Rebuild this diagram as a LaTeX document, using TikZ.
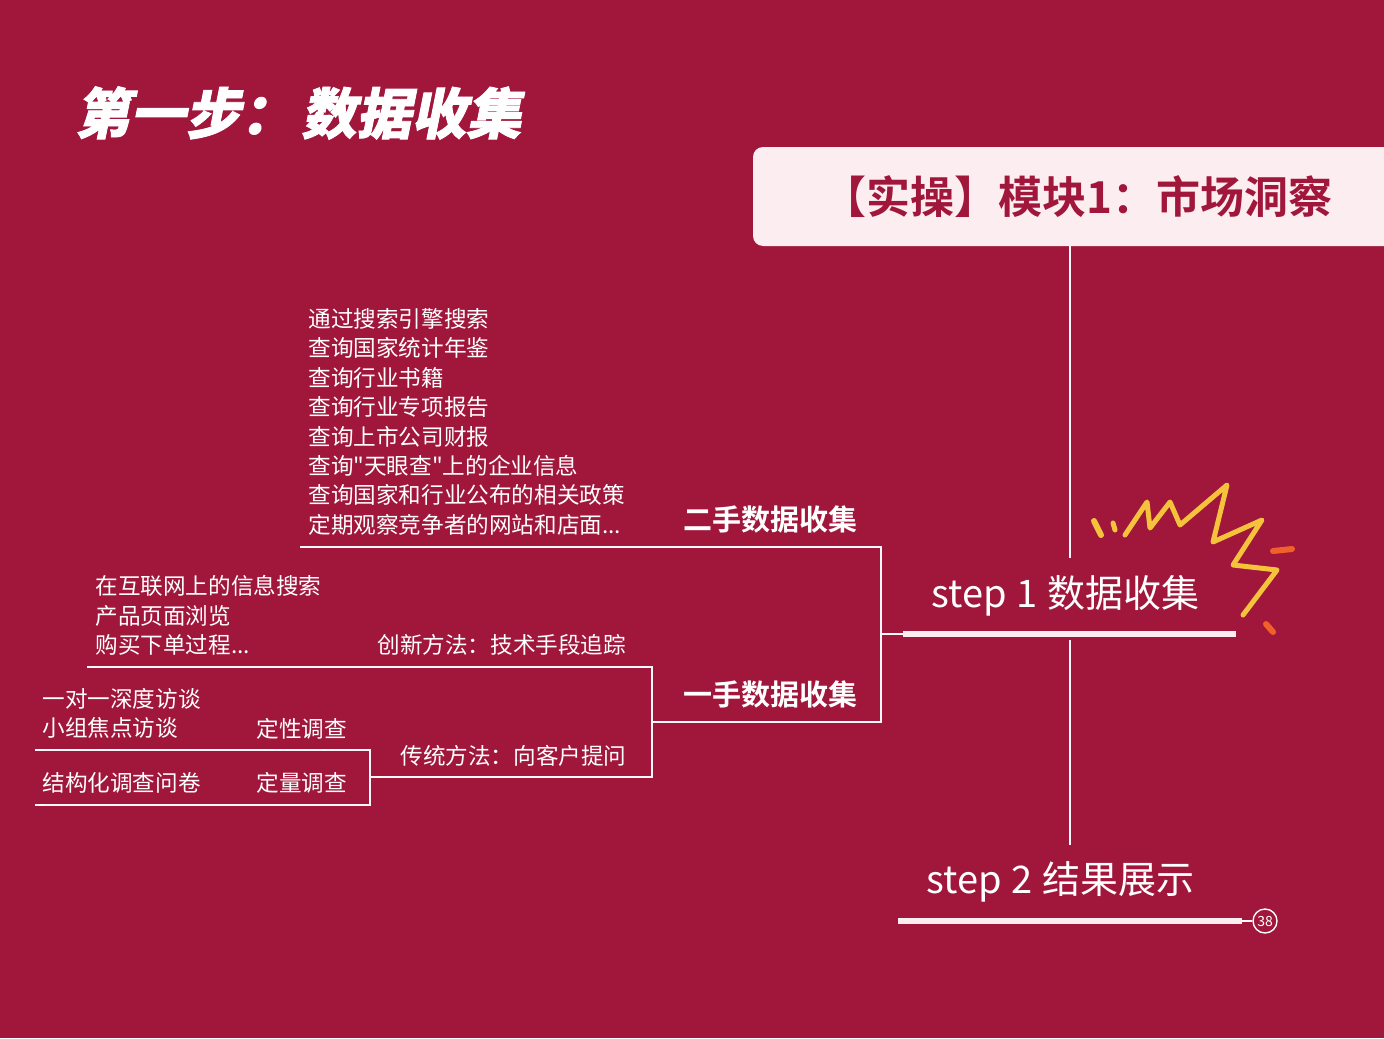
\documentclass[tikz,border=0pt]{standalone}
\usepackage{fontspec}
\setmainfont{Noto Sans CJK SC}
\newfontfamily\cjk{Noto Sans CJK SC}
\newfontfamily\cjkb{Noto Sans CJK SC Bold}
\newfontfamily\cjkt[FakeSlant=0.2,FakeBold=1.5]{Noto Sans CJK SC Black}
\definecolor{bg}{HTML}{A0173B}
\definecolor{pinkbox}{HTML}{FCEEF0}
\definecolor{zig}{HTML}{F5C33B}
\definecolor{org}{HTML}{F0602A}
\begin{document}
\begin{tikzpicture}[x=0.5pt,y=-0.5pt,
  ln/.style={draw=white!90!pink,line width=0.7pt},
  lst/.style={text=white,font=\cjk\fontsize{11.3}{14.7}\selectfont,anchor=north west,align=left,inner sep=0},
  lbl/.style={text=white,font=\cjk\fontsize{11.3}{13}\selectfont,anchor=west,inner sep=0},
  grp/.style={text=white,font=\cjkb\fontsize{14.5}{17}\selectfont,anchor=west,inner sep=0}]
\fill[bg] (0,0) rectangle (1384,1038);
\useasboundingbox (0,0) rectangle (1384,1038);
\node[text=white,font=\cjkt\fontsize{27.5}{30}\selectfont,anchor=west,inner sep=0] (title) at (75,113) {第一步：\hspace{3pt}数据收集};
\fill[pinkbox,rounded corners=5pt] (753,147) rectangle (1400,246);
\node[text=bg,font=\cjkb\fontsize{22}{26}\selectfont,anchor=west,inner sep=0] (head) at (822,197) {【实操】模块1：市场洞察};
\coordinate (v0) at (1070,246);
\coordinate (v1) at (1070,558);
\coordinate (v2) at (1070,640);
\coordinate (v3) at (1070,845);
\draw[ln] (v0)--(v1) (v2)--(v3);
\node[text=white,font=\cjk\fontsize{19}{22}\selectfont,anchor=west,inner sep=0] (s1) at (931,596) {step\hspace{5pt}1\hspace{5pt}数据收集};
\draw[pinkbox,line width=3pt] (903,634)--(1236,634);
\node[text=white,font=\cjk\fontsize{19}{22}\selectfont,anchor=west,inner sep=0] (s2) at (926,882) {step\hspace{5pt}2\hspace{5pt}结果展示};
\draw[pinkbox,line width=3pt] (898,921)--(1242,921);
\node[draw=white,circle,line width=0.7pt,minimum size=12pt,inner sep=0,text=white,font=\cjk\fontsize{7}{8}\selectfont] (pg) at (1265,921) {38};
\draw[white,line width=0.7pt] (1242,921)--(pg.west);
% zigzag
\draw[zig,line width=2.5pt,line cap=round,line join=round] (1125,535)--(1147,502)--(1150,528)--(1170,502)--(1180,525)--(1227,485)--(1213,542)--(1262,520)--(1233,565)--(1277,570)--(1243,615);
\draw[zig,line width=3pt,line cap=round] (1094,521)--(1101,535);
\draw[zig,line width=2.5pt,line cap=round] (1113,523)--(1115,530);
\draw[org,line width=3pt,line cap=round] (1273,551)--(1292,549);
\draw[org,line width=3pt,line cap=round] (1266,624)--(1273,632);
% tree lines
\draw[ln] (300,547)--(881,547)--(881,722)--(652,722);
\draw[ln] (881,634)--(903,634);
\draw[ln] (87,667)--(652,667)--(652,777)--(370,777);
\draw[ln] (35,750)--(370,750)--(370,805)--(35,805);
% texts
\node[lst] (l1) at (308,308) {通过搜索引擎搜索\\查询国家统计年鉴\\查询行业书籍\\查询行业专项报告\\查询上市公司财报\\查询"天眼查"上的企业信息\\查询国家和行业公布的相关政策\\定期观察竞争者的网站和店面...};
\node[grp] (g2) at (683,519) {二手数据收集};
\node[lst] (l2) at (95,575) {在互联网上的信息搜索\\产品页面浏览\\购买下单过程...};
\node[lbl] (inn) at (377,645) {创新方法：技术手段追踪};
\node[grp] (g1) at (683,694) {一手数据收集};
\node[lst] (l3) at (42,688) {一对一深度访谈\\小组焦点访谈};
\node[lbl] (q1) at (256,729) {定性调查};
\node[lbl] (trad) at (400,756) {传统方法：向客户提问};
\node[lbl] (l4) at (42,783) {结构化调查问卷};
\node[lbl] (q2) at (256,783) {定量调查};
\end{tikzpicture}
\end{document}
